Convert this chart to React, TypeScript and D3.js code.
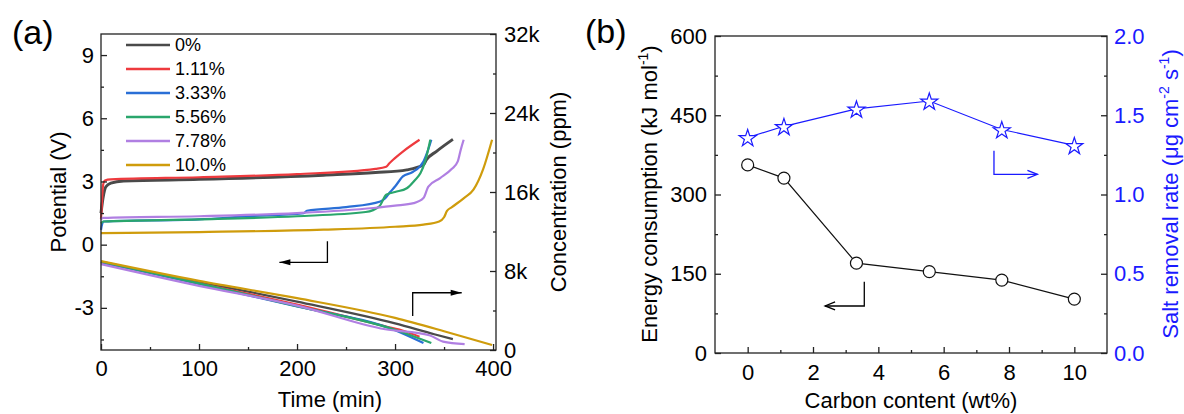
import React, { useEffect, useRef } from "react";
import * as d3 from "d3";

const FONT = 'Arial, "Liberation Sans", sans-serif';
const BLUE = "#1a1aff";

// ---- panel (a): charge curves ----
const seriesNames = ["0%", "1.11%", "3.33%", "5.56%", "7.78%", "10.0%"];
const seriesColors = ["#4a4a4a", "#ee3a3e", "#2a6fd6", "#2aa66c", "#b07fe2", "#cf9c0c"];

// potential (time min, V)
const potential0 = [[0, 1.5], [2, 2.2], [5, 2.75], [10, 2.92], [23, 3.02], [100, 3.1], [227, 3.3], [280, 3.42], [312, 3.55], [329, 3.79], [332, 4.03], [342, 4.42], [359, 5.0]];
const potential111 = [[0, 1.2], [1, 2.0], [2, 2.8], [4, 3.05], [10, 3.1], [100, 3.2], [200, 3.35], [280, 3.6], [291, 3.7], [294, 3.85], [298, 4.03], [308, 4.42], [325, 4.98]];
const potential333 = [[0, 0.7], [1, 0.95], [3, 1.1], [100, 1.2], [150, 1.35], [207, 1.5], [210, 1.61], [250, 1.78], [285, 2.05], [290, 2.2], [295, 2.5], [300, 2.76], [308, 3.24], [318, 3.45], [329, 3.95], [333, 4.4], [337, 4.98]];
const potential556 = [[0, 1.0], [2, 1.1], [100, 1.2], [200, 1.35], [270, 1.55], [284, 1.82], [291, 2.37], [300, 2.5], [312, 2.68], [320, 3.05], [326, 3.4], [331, 4.0], [336, 4.98]];
const potential778 = [[0, 1.2], [2, 1.27], [100, 1.35], [200, 1.5], [278, 1.74], [300, 1.85], [319, 1.97], [329, 2.21], [334, 2.76], [346, 3.16], [358, 3.6], [364, 3.95], [367, 4.5], [370, 4.98]];
const potential100 = [[0, 0.55], [100, 0.6], [227, 0.71], [300, 0.85], [329, 0.95], [345, 1.1], [350, 1.3], [353, 1.6], [358, 1.78], [370, 2.2], [380, 2.61], [390, 3.6], [399, 4.98]];

// concentration (time min, ppm)
const conc0 = [[0, 8900], [100, 6900], [200, 4900], [300, 2700], [340, 1600], [359, 1100]];
const conc111 = [[0, 8900], [100, 6750], [200, 4600], [290, 2400], [310, 1900], [325, 1350]];
const conc333 = [[0, 8900], [100, 6700], [200, 4400], [300, 2000], [329, 700]];
const conc556 = [[0, 8950], [100, 6750], [200, 4450], [300, 2050], [337, 700]];
const conc778 = [[0, 8700], [100, 6500], [200, 4500], [290, 2100], [335, 1500], [349, 850], [371, 600]];
const conc100 = [[0, 9000], [100, 7000], [200, 5250], [300, 3250], [350, 1900], [399, 500]];

const potentials = [potential0, potential111, potential333, potential556, potential778, potential100];
const concentrations = [conc0, conc111, conc333, conc556, conc778, conc100];

const timeTicks = [0, 100, 200, 300, 400];
const timeMinor = [50, 150, 250, 350];
const potentialTicks = [-3, 0, 3, 6, 9];
const potentialMinor = [-4.5, -1.5, 1.5, 4.5, 7.5];
const concTicks = [0, 8000, 16000, 24000, 32000];
const concMinor = [4000, 12000, 20000, 28000];

// ---- panel (b) ----
const carbonContent = [0, 1.11, 3.33, 5.56, 7.78, 10];
const energyConsumption = [356, 331, 170, 154, 138, 102];
const saltRemovalRate = [1.36, 1.43, 1.54, 1.59, 1.41, 1.31];
const carbonTicks = [0, 2, 4, 6, 8, 10];
const carbonMinor = [1, 3, 5, 7, 9];
const energyTicks = [0, 150, 300, 450, 600];
const energyMinor = [75, 225, 375, 525];
const rateTicks = [0, 0.5, 1.0, 1.5, 2.0];
const rateMinor = [0.25, 0.75, 1.25, 1.75];

// guide arrows, in data units
const arrowPotential = [[231, 0.16], [231, -0.84], [182, -0.84]];
const arrowConc = [[318, 3450], [318, 5800], [368, 5800]];
const arrowEnergy = [[3.57, 135], [3.57, 89], [2.37, 89]];
const arrowRate = [[7.54, 1.276], [7.54, 1.127], [8.87, 1.127]];

export default function App() {
  const ref = useRef<SVGSVGElement>(null);

  useEffect(() => {
    const svg = d3.select(ref.current);
    svg.selectAll("*").remove();

    const styleAxis = (g, color = "#222", labelColor = "#000") => {
      g.attr("font-size", 22).attr("font-family", FONT).attr("color", color);
      g.select(".domain").remove();
      g.selectAll("line").attr("stroke-width", 1.3);
      g.selectAll("text").attr("fill", labelColor);
    };

    const axes = (g, make, scale, major, minor, pad, fmt, labelColor = "#000") => {
      g.append("g").call(make(scale).tickValues(minor).tickSizeInner(-3).tickSizeOuter(0).tickFormat(() => ""))
        .call((s) => styleAxis(s));
      g.append("g").call(make(scale).tickValues(major).tickSizeInner(-6).tickSizeOuter(0).tickPadding(pad).tickFormat(fmt))
        .call((s) => styleAxis(s, "#222", labelColor));
    };

    const arrow = (pts, x, y, color, filled) => {
      const p = pts.map((d) => [x(d[0]), y(d[1])]);
      svg.append("path").attr("d", d3.line()(p)).attr("fill", "none").attr("stroke", color).attr("stroke-width", 1.3);
      const [ex, ey] = p[p.length - 1];
      const dir = p[p.length - 1][0] > p[p.length - 2][0] ? 1 : -1;
      if (filled) {
        svg.append("path")
          .attr("d", `M${ex},${ey}L${ex - dir * 11},${ey - 3}L${ex - dir * 11},${ey + 3}Z`)
          .attr("fill", color);
      } else {
        svg.append("path")
          .attr("d", `M${ex - dir * 10},${ey - 4}L${ex},${ey}L${ex - dir * 10},${ey + 4}`)
          .attr("fill", "none").attr("stroke", color).attr("stroke-width", 1.3);
      }
    };

    // ===== panel (a) =====
    const xa = d3.scaleLinear().domain([0, 403]).range([101, 496]);
    const ya = d3.scaleLinear().domain([-5, 10]).range([350, 34]);
    const yc = d3.scaleLinear().domain([0, 32000]).range([350, 34]);

    const pLine = d3.line().x((d) => xa(d[0])).y((d) => ya(d[1])).curve(d3.curveMonotoneX);
    const cLine = d3.line().x((d) => xa(d[0])).y((d) => yc(d[1])).curve(d3.curveMonotoneX);

    concentrations.forEach((s, i) => {
      svg.append("path").attr("d", cLine(s)).attr("fill", "none")
        .attr("stroke", seriesColors[i]).attr("stroke-width", 2.2);
    });
    potentials.forEach((s, i) => {
      svg.append("path").attr("d", pLine(s)).attr("fill", "none")
        .attr("stroke", seriesColors[i]).attr("stroke-width", i === 0 ? 3 : 2.2);
    });

    svg.append("rect").attr("x", 101).attr("y", 34).attr("width", 395).attr("height", 316)
      .attr("fill", "none").attr("stroke", "#222").attr("stroke-width", 1.3);

    axes(svg.append("g").attr("transform", "translate(0,350)"), d3.axisBottom, xa, timeTicks, timeMinor, 10, (d) => d);
    axes(svg.append("g").attr("transform", "translate(101,0)"), d3.axisLeft, ya, potentialTicks, potentialMinor, 7, (d) => d);
    axes(svg.append("g").attr("transform", "translate(496,0)"), d3.axisRight, yc, concTicks, concMinor, 8,
      (d) => (d === 0 ? "0" : d / 1000 + "k"));

    arrow(arrowPotential, xa, ya, "#000", true);
    arrow(arrowConc, xa, yc, "#000", true);

    // legend
    const lg = svg.append("g");
    seriesNames.forEach((name, i) => {
      const cy = 45 + i * 24;
      lg.append("line").attr("x1", 126).attr("x2", 170).attr("y1", cy).attr("y2", cy)
        .attr("stroke", seriesColors[i]).attr("stroke-width", 2.6);
      lg.append("text").attr("x", 175).attr("y", cy).attr("dy", "0.35em")
        .attr("font-size", 18).attr("font-family", FONT).text(name);
    });

    svg.append("text").attr("x", 12).attr("y", 44).attr("font-size", 34).attr("font-family", FONT).text("(a)");
    svg.append("text").attr("x", 330).attr("y", 407).attr("text-anchor", "middle")
      .attr("font-size", 22).attr("font-family", FONT).text("Time (min)");
    svg.append("text").attr("transform", "translate(66,192) rotate(-90)").attr("text-anchor", "middle")
      .attr("font-size", 22).attr("font-family", FONT).text("Potential (V)");
    svg.append("text").attr("transform", "translate(566,192) rotate(-90)").attr("text-anchor", "middle")
      .attr("font-size", 22).attr("font-family", FONT).text("Concentration (ppm)");

    // ===== panel (b) =====
    const xb = d3.scaleLinear().domain([-1, 11]).range([715, 1107]);
    const ye = d3.scaleLinear().domain([0, 600]).range([353, 36]);
    const yr = d3.scaleLinear().domain([0, 2]).range([353, 36]);

    svg.append("rect").attr("x", 715).attr("y", 36).attr("width", 392).attr("height", 317)
      .attr("fill", "none").attr("stroke", "#222").attr("stroke-width", 1.3);

    axes(svg.append("g").attr("transform", "translate(0,353)"), d3.axisBottom, xb, carbonTicks, carbonMinor, 11, (d) => d);
    axes(svg.append("g").attr("transform", "translate(715,0)"), d3.axisLeft, ye, energyTicks, energyMinor, 8, (d) => d);
    axes(svg.append("g").attr("transform", "translate(1107,0)"), d3.axisRight, yr, rateTicks, rateMinor, 7,
      d3.format(".1f"), BLUE);

    const energyPts = carbonContent.map((c, i) => [xb(c), ye(energyConsumption[i])]);
    const ratePts = carbonContent.map((c, i) => [xb(c), yr(saltRemovalRate[i])]);

    svg.append("path").attr("d", d3.line()(energyPts)).attr("fill", "none").attr("stroke", "#111").attr("stroke-width", 1.2);
    svg.append("path").attr("d", d3.line()(ratePts)).attr("fill", "none").attr("stroke", BLUE).attr("stroke-width", 1.1);

    svg.selectAll(".circ").data(energyPts).join("circle").attr("class", "circ")
      .attr("cx", (d) => d[0]).attr("cy", (d) => d[1]).attr("r", 6)
      .attr("fill", "#fff").attr("stroke", "#111").attr("stroke-width", 1.2);
    const star = d3.symbol().type(d3.symbolStar).size(90);
    svg.selectAll(".star").data(ratePts).join("path").attr("class", "star")
      .attr("transform", (d) => `translate(${d[0]},${d[1] + 1})`).attr("d", star())
      .attr("fill", "#fff").attr("stroke", BLUE).attr("stroke-width", 1.2);

    arrow(arrowEnergy, xb, ye, "#000", false);
    arrow(arrowRate, xb, yr, BLUE, false);

    svg.append("text").attr("x", 585).attr("y", 43).attr("font-size", 34).attr("font-family", FONT).text("(b)");
    svg.append("text").attr("x", 911).attr("y", 408).attr("text-anchor", "middle")
      .attr("font-size", 22).attr("font-family", FONT).text("Carbon content (wt%)");

    const et = svg.append("text").attr("transform", "translate(657,194) rotate(-90)").attr("text-anchor", "middle")
      .attr("font-size", 22).attr("font-family", FONT);
    et.append("tspan").text("Energy consumption (kJ mol");
    et.append("tspan").attr("font-size", 14).attr("dy", -9).text("-1");
    et.append("tspan").attr("dy", 9).text(")");

    const st = svg.append("text").attr("transform", "translate(1178,194) rotate(-90)").attr("text-anchor", "middle")
      .attr("font-size", 22).attr("font-family", FONT).attr("fill", BLUE);
    st.append("tspan").text("Salt removal rate (\u03bcg cm");
    st.append("tspan").attr("font-size", 14).attr("dy", -9).text("-2");
    st.append("tspan").attr("dy", 9).text(" s");
    st.append("tspan").attr("font-size", 14).attr("dy", -9).text("-1");
    st.append("tspan").attr("dy", 9).text(")");
  }, []);

  return (
    <svg ref={ref} width={1184} height={414}
      style={{ position: "absolute", left: 0, top: 0, background: "#fff" }} />
  );
}
